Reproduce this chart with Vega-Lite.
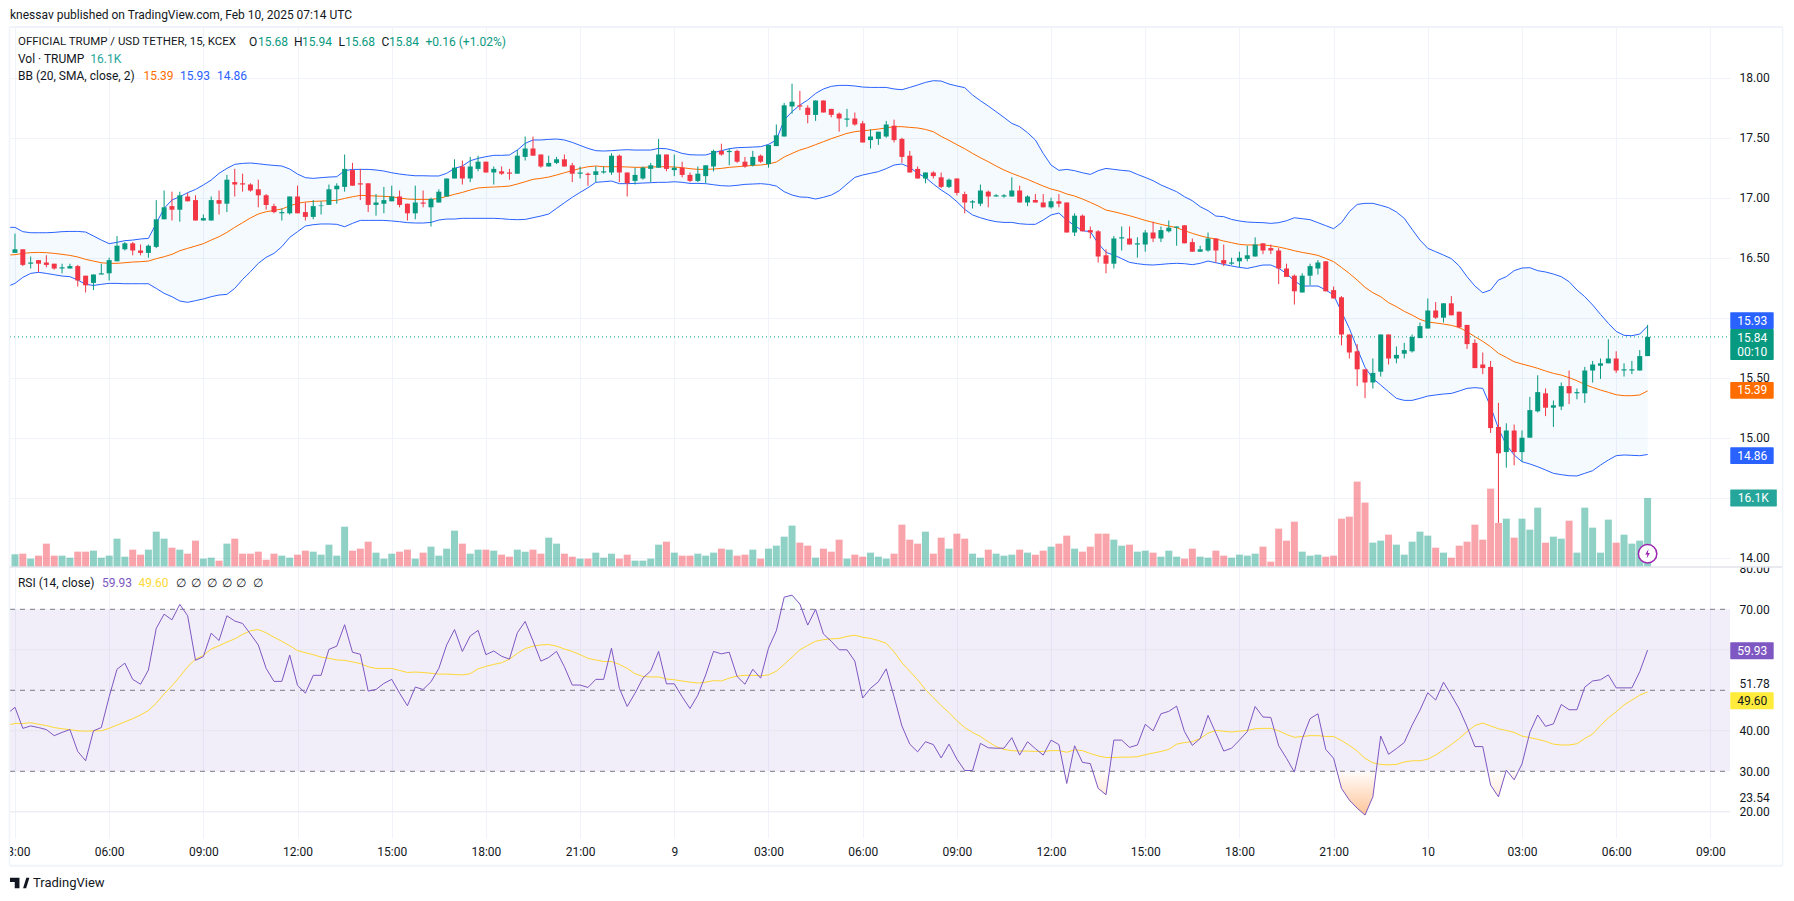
{"$schema":"https://vega.github.io/schema/vega-lite/v6.json","width":1720,"height":811,"autosize":{"type":"none"},"padding":{"left":10,"top":27,"right":64,"bottom":63},"background":"white","config":{"font":"Roboto","view":{"stroke":null},"text":{"font":"Roboto","fontSize":12}},
"datasets":{"bars":[
{"t":"2025-02-08T02:45Z","u":16.753,"m":16.522,"d":16.26,"r":44.2,"a":41.4},
{"t":"2025-02-08T03:00Z","o":16.54,"h":16.7,"l":16.54,"c":16.57,"v":2960,"u":16.753,"m":16.525,"d":16.286,"r":45.8,"a":41.8},
{"t":"2025-02-08T03:15Z","o":16.57,"h":16.57,"l":16.43,"c":16.44,"v":3110,"u":16.717,"m":16.536,"d":16.336,"r":40.6,"a":41.8},
{"t":"2025-02-08T03:30Z","o":16.45,"h":16.51,"l":16.41,"c":16.46,"v":1950,"u":16.708,"m":16.542,"d":16.369,"r":41.2,"a":42},
{"t":"2025-02-08T03:45Z","o":16.48,"h":16.48,"l":16.38,"c":16.45,"v":2650,"u":16.708,"m":16.544,"d":16.378,"r":40.8,"a":41.6},
{"t":"2025-02-08T04:00Z","o":16.46,"h":16.52,"l":16.42,"c":16.44,"v":5450,"u":16.708,"m":16.542,"d":16.369,"r":40.3,"a":41.3},
{"t":"2025-02-08T04:15Z","o":16.45,"h":16.45,"l":16.4,"c":16.41,"v":2650,"u":16.711,"m":16.536,"d":16.358,"r":38.8,"a":40.8},
{"t":"2025-02-08T04:30Z","o":16.41,"h":16.45,"l":16.37,"c":16.42,"v":2650,"u":16.717,"m":16.528,"d":16.347,"r":39.6,"a":40.5},
{"t":"2025-02-08T04:45Z","o":16.41,"h":16.45,"l":16.41,"c":16.43,"v":2180,"u":16.719,"m":16.519,"d":16.342,"r":40.3,"a":40.3},
{"t":"2025-02-08T05:00Z","o":16.43,"h":16.44,"l":16.26,"c":16.31,"v":3580,"u":16.719,"m":16.506,"d":16.314,"r":34.9,"a":40},
{"t":"2025-02-08T05:15Z","o":16.35,"h":16.35,"l":16.21,"c":16.27,"v":3580,"u":16.714,"m":16.486,"d":16.278,"r":32.6,"a":39.9},
{"t":"2025-02-08T05:30Z","o":16.29,"h":16.36,"l":16.23,"c":16.36,"v":3810,"u":16.681,"m":16.472,"d":16.269,"r":40,"a":40},
{"t":"2025-02-08T05:45Z","o":16.36,"h":16.45,"l":16.36,"c":16.37,"v":2180,"u":16.647,"m":16.458,"d":16.278,"r":40.8,"a":40},
{"t":"2025-02-08T06:00Z","o":16.37,"h":16.5,"l":16.31,"c":16.48,"v":2650,"u":16.617,"m":16.453,"d":16.286,"r":48.4,"a":40.6},
{"t":"2025-02-08T06:15Z","o":16.47,"h":16.68,"l":16.47,"c":16.6,"v":6610,"u":16.628,"m":16.453,"d":16.286,"r":55.2,"a":41.4},
{"t":"2025-02-08T06:30Z","o":16.57,"h":16.63,"l":16.56,"c":16.62,"v":2410,"u":16.642,"m":16.458,"d":16.283,"r":56.7,"a":42.2},
{"t":"2025-02-08T06:45Z","o":16.62,"h":16.63,"l":16.52,"c":16.56,"v":4050,"u":16.647,"m":16.464,"d":16.283,"r":52.7,"a":43},
{"t":"2025-02-08T07:00Z","o":16.56,"h":16.61,"l":16.52,"c":16.54,"v":2880,"u":16.656,"m":16.467,"d":16.283,"r":51.5,"a":43.9},
{"t":"2025-02-08T07:15Z","o":16.54,"h":16.61,"l":16.5,"c":16.6,"v":4050,"u":16.661,"m":16.472,"d":16.283,"r":55,"a":45},
{"t":"2025-02-08T07:30Z","o":16.59,"h":16.98,"l":16.58,"c":16.82,"v":8250,"u":16.786,"m":16.492,"d":16.244,"r":65.3,"a":46.8},
{"t":"2025-02-08T07:45Z","o":16.82,"h":17.06,"l":16.82,"c":16.92,"v":6610,"u":16.911,"m":16.508,"d":16.203,"r":68.8,"a":49.1},
{"t":"2025-02-08T08:00Z","o":16.93,"h":17.05,"l":16.81,"c":16.9,"v":4510,"u":16.981,"m":16.528,"d":16.175,"r":67.4,"a":51.1},
{"t":"2025-02-08T08:15Z","o":16.9,"h":17.05,"l":16.8,"c":17.02,"v":4050,"u":17.008,"m":16.558,"d":16.139,"r":71.2,"a":53.4},
{"t":"2025-02-08T08:30Z","o":17.01,"h":17.04,"l":16.97,"c":16.97,"v":3110,"u":17.042,"m":16.578,"d":16.128,"r":68.4,"a":55.8},
{"t":"2025-02-08T08:45Z","o":16.98,"h":17.02,"l":16.81,"c":16.81,"v":6150,"u":17.069,"m":16.597,"d":16.142,"r":57.4,"a":57.7},
{"t":"2025-02-08T09:00Z","o":16.81,"h":16.86,"l":16.81,"c":16.83,"v":1950,"u":17.106,"m":16.617,"d":16.156,"r":58.3,"a":58.6},
{"t":"2025-02-08T09:15Z","o":16.81,"h":17.01,"l":16.81,"c":16.98,"v":2180,"u":17.147,"m":16.647,"d":16.175,"r":64.1,"a":60.2},
{"t":"2025-02-08T09:30Z","o":16.98,"h":17.06,"l":16.86,"c":16.95,"v":1480,"u":17.203,"m":16.675,"d":16.189,"r":62.3,"a":61},
{"t":"2025-02-08T09:45Z","o":16.95,"h":17.19,"l":16.88,"c":17.15,"v":5450,"u":17.244,"m":16.711,"d":16.194,"r":68.4,"a":61.9},
{"t":"2025-02-08T10:00Z","o":17.13,"h":17.24,"l":17.01,"c":17.11,"v":6610,"u":17.278,"m":16.753,"d":16.244,"r":67.1,"a":62.7},
{"t":"2025-02-08T10:15Z","o":17.12,"h":17.2,"l":17.05,"c":17.11,"v":3110,"u":17.286,"m":16.792,"d":16.319,"r":66.5,"a":63.8},
{"t":"2025-02-08T10:30Z","o":17.11,"h":17.12,"l":17.05,"c":17.06,"v":3110,"u":17.289,"m":16.831,"d":16.383,"r":63.9,"a":64.7},
{"t":"2025-02-08T10:45Z","o":17.07,"h":17.15,"l":16.92,"c":17.02,"v":3580,"u":17.283,"m":16.864,"d":16.453,"r":61.2,"a":65},
{"t":"2025-02-08T11:00Z","o":17.02,"h":17.03,"l":16.9,"c":16.94,"v":1710,"u":17.275,"m":16.883,"d":16.503,"r":55.4,"a":64.2},
{"t":"2025-02-08T11:15Z","o":16.93,"h":16.95,"l":16.87,"c":16.88,"v":3110,"u":17.269,"m":16.894,"d":16.536,"r":52.2,"a":63.1},
{"t":"2025-02-08T11:30Z","o":16.87,"h":16.91,"l":16.81,"c":16.88,"v":2650,"u":17.264,"m":16.906,"d":16.592,"r":52.2,"a":62.1},
{"t":"2025-02-08T11:45Z","o":16.87,"h":17.01,"l":16.86,"c":17.01,"v":2180,"u":17.239,"m":16.931,"d":16.669,"r":58.7,"a":61},
{"t":"2025-02-08T12:00Z","o":17.01,"h":17.1,"l":16.87,"c":16.87,"v":2880,"u":17.197,"m":16.953,"d":16.717,"r":51.2,"a":59.8},
{"t":"2025-02-08T12:15Z","o":16.88,"h":16.96,"l":16.81,"c":16.84,"v":3810,"u":17.167,"m":16.964,"d":16.764,"r":49.3,"a":59.3},
{"t":"2025-02-08T12:30Z","o":16.84,"h":16.98,"l":16.82,"c":16.93,"v":3580,"u":17.161,"m":16.969,"d":16.775,"r":53.7,"a":58.8},
{"t":"2025-02-08T12:45Z","o":16.93,"h":16.97,"l":16.86,"c":16.935,"v":2880,"u":17.167,"m":16.972,"d":16.781,"r":53.7,"a":58.2},
{"t":"2025-02-08T13:00Z","o":16.94,"h":17.11,"l":16.94,"c":17.07,"v":5210,"u":17.172,"m":16.975,"d":16.781,"r":60.1,"a":57.9},
{"t":"2025-02-08T13:15Z","o":17.07,"h":17.12,"l":16.95,"c":17.1,"v":2650,"u":17.175,"m":16.978,"d":16.778,"r":60.9,"a":57.5},
{"t":"2025-02-08T13:30Z","o":17.09,"h":17.36,"l":17.05,"c":17.24,"v":9410,"u":17.225,"m":16.994,"d":16.758,"r":66.2,"a":57.4},
{"t":"2025-02-08T13:45Z","o":17.23,"h":17.29,"l":17.1,"c":17.1,"v":3810,"u":17.236,"m":17.008,"d":16.786,"r":59.4,"a":57},
{"t":"2025-02-08T14:00Z","o":17.12,"h":17.24,"l":16.98,"c":17.11,"v":4280,"u":17.236,"m":17.019,"d":16.811,"r":58.9,"a":56.6},
{"t":"2025-02-08T14:15Z","o":17.12,"h":17.12,"l":16.88,"c":16.94,"v":5910,"u":17.236,"m":17.017,"d":16.811,"r":49.8,"a":55.8},
{"t":"2025-02-08T14:30Z","o":16.94,"h":17.03,"l":16.85,"c":16.96,"v":3350,"u":17.231,"m":17.014,"d":16.811,"r":50.2,"a":55.4},
{"t":"2025-02-08T14:45Z","o":16.95,"h":17.09,"l":16.87,"c":16.98,"v":1950,"u":17.222,"m":17.011,"d":16.811,"r":51.7,"a":55.4},
{"t":"2025-02-08T15:00Z","o":16.97,"h":17.1,"l":16.97,"c":17.01,"v":3110,"u":17.208,"m":17.008,"d":16.806,"r":52.7,"a":55.4},
{"t":"2025-02-08T15:15Z","o":17.01,"h":17.06,"l":16.92,"c":16.94,"v":3580,"u":17.197,"m":16.997,"d":16.8,"r":49.3,"a":54.9},
{"t":"2025-02-08T15:30Z","o":16.95,"h":16.95,"l":16.81,"c":16.87,"v":4050,"u":17.189,"m":16.989,"d":16.792,"r":46.2,"a":54.4},
{"t":"2025-02-08T15:45Z","o":16.87,"h":17.1,"l":16.82,"c":16.96,"v":1950,"u":17.183,"m":16.986,"d":16.789,"r":50.8,"a":54.5},
{"t":"2025-02-08T16:00Z","o":16.96,"h":17.06,"l":16.92,"c":16.95,"v":3350,"u":17.183,"m":16.986,"d":16.789,"r":50.2,"a":54.4},
{"t":"2025-02-08T16:15Z","o":16.92,"h":17,"l":16.76,"c":16.99,"v":4750,"u":17.181,"m":16.986,"d":16.794,"r":52.1,"a":54.2},
{"t":"2025-02-08T16:30Z","o":16.96,"h":17.07,"l":16.96,"c":17.05,"v":2650,"u":17.181,"m":16.994,"d":16.814,"r":55.4,"a":54},
{"t":"2025-02-08T16:45Z","o":17.01,"h":17.16,"l":17.01,"c":17.16,"v":4280,"u":17.203,"m":17.011,"d":16.822,"r":61.2,"a":54},
{"t":"2025-02-08T17:00Z","o":17.16,"h":17.32,"l":17.16,"c":17.25,"v":8480,"u":17.244,"m":17.028,"d":16.822,"r":65,"a":53.9},
{"t":"2025-02-08T17:15Z","o":17.26,"h":17.31,"l":17.11,"c":17.16,"v":5450,"u":17.264,"m":17.044,"d":16.828,"r":59.6,"a":53.8},
{"t":"2025-02-08T17:30Z","o":17.16,"h":17.34,"l":17.13,"c":17.26,"v":3110,"u":17.308,"m":17.064,"d":16.828,"r":63.4,"a":54.1},
{"t":"2025-02-08T17:45Z","o":17.24,"h":17.35,"l":17.22,"c":17.3,"v":4050,"u":17.328,"m":17.081,"d":16.828,"r":64.8,"a":55.3},
{"t":"2025-02-08T18:00Z","o":17.3,"h":17.3,"l":17.21,"c":17.21,"v":4050,"u":17.342,"m":17.086,"d":16.828,"r":58.8,"a":55.9},
{"t":"2025-02-08T18:15Z","o":17.21,"h":17.26,"l":17.11,"c":17.24,"v":3810,"u":17.353,"m":17.089,"d":16.828,"r":59.7,"a":56.4},
{"t":"2025-02-08T18:30Z","o":17.22,"h":17.26,"l":17.19,"c":17.2,"v":2880,"u":17.353,"m":17.092,"d":16.825,"r":58.4,"a":56.8},
{"t":"2025-02-08T18:45Z","o":17.21,"h":17.24,"l":17.15,"c":17.2,"v":2410,"u":17.356,"m":17.097,"d":16.819,"r":57.7,"a":57.7},
{"t":"2025-02-08T19:00Z","o":17.2,"h":17.4,"l":17.2,"c":17.35,"v":4050,"u":17.397,"m":17.114,"d":16.817,"r":64.2,"a":59.1},
{"t":"2025-02-08T19:15Z","o":17.34,"h":17.51,"l":17.31,"c":17.41,"v":3580,"u":17.453,"m":17.133,"d":16.819,"r":67,"a":60.3},
{"t":"2025-02-08T19:30Z","o":17.41,"h":17.51,"l":17.35,"c":17.35,"v":4050,"u":17.481,"m":17.153,"d":16.833,"r":62.2,"a":60.9},
{"t":"2025-02-08T19:45Z","o":17.36,"h":17.36,"l":17.25,"c":17.26,"v":3110,"u":17.481,"m":17.161,"d":16.847,"r":57.2,"a":61.2},
{"t":"2025-02-08T20:00Z","o":17.26,"h":17.35,"l":17.26,"c":17.29,"v":6850,"u":17.486,"m":17.172,"d":16.864,"r":58.1,"a":61.3},
{"t":"2025-02-08T20:15Z","o":17.29,"h":17.34,"l":17.28,"c":17.32,"v":5450,"u":17.489,"m":17.189,"d":16.911,"r":59.6,"a":60.9},
{"t":"2025-02-08T20:30Z","o":17.32,"h":17.36,"l":17.26,"c":17.26,"v":3110,"u":17.481,"m":17.208,"d":16.958,"r":55.8,"a":60.2},
{"t":"2025-02-08T20:45Z","o":17.27,"h":17.29,"l":17.13,"c":17.2,"v":2410,"u":17.461,"m":17.225,"d":17.003,"r":51.3,"a":59.6},
{"t":"2025-02-08T21:00Z","o":17.2,"h":17.26,"l":17.16,"c":17.21,"v":1950,"u":17.436,"m":17.244,"d":17.044,"r":51.3,"a":58.8},
{"t":"2025-02-08T21:15Z","o":17.2,"h":17.21,"l":17.1,"c":17.19,"v":1950,"u":17.411,"m":17.258,"d":17.083,"r":50.7,"a":57.9},
{"t":"2025-02-08T21:30Z","o":17.19,"h":17.26,"l":17.13,"c":17.22,"v":3350,"u":17.392,"m":17.264,"d":17.128,"r":52.7,"a":57.5},
{"t":"2025-02-08T21:45Z","o":17.21,"h":17.26,"l":17.2,"c":17.22,"v":2180,"u":17.389,"m":17.258,"d":17.133,"r":52.7,"a":57.1},
{"t":"2025-02-08T22:00Z","o":17.21,"h":17.37,"l":17.19,"c":17.35,"v":3110,"u":17.392,"m":17.258,"d":17.139,"r":60.4,"a":57.1},
{"t":"2025-02-08T22:15Z","o":17.35,"h":17.36,"l":17.13,"c":17.21,"v":1950,"u":17.397,"m":17.258,"d":17.117,"r":50.5,"a":56.4},
{"t":"2025-02-08T22:30Z","o":17.21,"h":17.21,"l":17.01,"c":17.12,"v":2880,"u":17.4,"m":17.256,"d":17.117,"r":46,"a":55.4},
{"t":"2025-02-08T22:45Z","o":17.14,"h":17.25,"l":17.11,"c":17.19,"v":1480,"u":17.397,"m":17.253,"d":17.119,"r":49.3,"a":54.1},
{"t":"2025-02-08T23:00Z","o":17.16,"h":17.26,"l":17.15,"c":17.25,"v":1480,"u":17.397,"m":17.253,"d":17.122,"r":53,"a":53.4},
{"t":"2025-02-08T23:15Z","o":17.24,"h":17.29,"l":17.13,"c":17.27,"v":1950,"u":17.397,"m":17.256,"d":17.125,"r":54.8,"a":53.3},
{"t":"2025-02-08T23:30Z","o":17.25,"h":17.49,"l":17.25,"c":17.36,"v":5210,"u":17.411,"m":17.258,"d":17.128,"r":59.6,"a":53.3},
{"t":"2025-02-08T23:45Z","o":17.36,"h":17.36,"l":17.22,"c":17.24,"v":5910,"u":17.408,"m":17.258,"d":17.128,"r":51.6,"a":52.8},
{"t":"2025-02-09T00:00Z","o":17.23,"h":17.36,"l":17.18,"c":17.25,"v":3350,"u":17.392,"m":17.256,"d":17.133,"r":51.6,"a":52.6},
{"t":"2025-02-09T00:15Z","o":17.25,"h":17.3,"l":17.17,"c":17.19,"v":2650,"u":17.369,"m":17.25,"d":17.128,"r":48.4,"a":52.3},
{"t":"2025-02-09T00:30Z","o":17.19,"h":17.21,"l":17.13,"c":17.14,"v":2650,"u":17.358,"m":17.242,"d":17.119,"r":45.5,"a":52},
{"t":"2025-02-09T00:45Z","o":17.14,"h":17.26,"l":17.13,"c":17.2,"v":3110,"u":17.356,"m":17.236,"d":17.119,"r":48.8,"a":51.8},
{"t":"2025-02-09T01:00Z","o":17.18,"h":17.27,"l":17.12,"c":17.27,"v":2650,"u":17.356,"m":17.236,"d":17.117,"r":53.8,"a":52},
{"t":"2025-02-09T01:15Z","o":17.26,"h":17.4,"l":17.22,"c":17.39,"v":3350,"u":17.375,"m":17.239,"d":17.108,"r":59.6,"a":52.4},
{"t":"2025-02-09T01:30Z","o":17.39,"h":17.45,"l":17.35,"c":17.36,"v":4280,"u":17.392,"m":17.244,"d":17.1,"r":59,"a":52.3},
{"t":"2025-02-09T01:45Z","o":17.38,"h":17.41,"l":17.27,"c":17.39,"v":4050,"u":17.408,"m":17.253,"d":17.097,"r":59.4,"a":53},
{"t":"2025-02-09T02:00Z","o":17.39,"h":17.4,"l":17.29,"c":17.3,"v":2650,"u":17.417,"m":17.258,"d":17.103,"r":53.4,"a":53.5},
{"t":"2025-02-09T02:15Z","o":17.3,"h":17.34,"l":17.25,"c":17.26,"v":2880,"u":17.419,"m":17.264,"d":17.111,"r":51.5,"a":53.7},
{"t":"2025-02-09T02:30Z","o":17.27,"h":17.39,"l":17.26,"c":17.34,"v":4050,"u":17.422,"m":17.269,"d":17.114,"r":55.2,"a":53.7},
{"t":"2025-02-09T02:45Z","o":17.35,"h":17.36,"l":17.29,"c":17.3,"v":1950,"u":17.425,"m":17.272,"d":17.117,"r":53,"a":53.6},
{"t":"2025-02-09T03:00Z","o":17.28,"h":17.44,"l":17.25,"c":17.44,"v":4280,"u":17.444,"m":17.281,"d":17.111,"r":60.4,"a":53.8},
{"t":"2025-02-09T03:15Z","o":17.43,"h":17.61,"l":17.43,"c":17.52,"v":4980,"u":17.481,"m":17.297,"d":17.097,"r":64.7,"a":54.7},
{"t":"2025-02-09T03:30Z","o":17.51,"h":17.79,"l":17.51,"c":17.77,"v":7080,"u":17.647,"m":17.339,"d":17.05,"r":73,"a":56.4},
{"t":"2025-02-09T03:45Z","o":17.76,"h":17.95,"l":17.7,"c":17.8,"v":9650,"u":17.717,"m":17.369,"d":17.022,"r":73.5,"a":58.2},
{"t":"2025-02-09T04:00Z","o":17.77,"h":17.89,"l":17.73,"c":17.76,"v":5680,"u":17.772,"m":17.397,"d":17.006,"r":71.3,"a":60},
{"t":"2025-02-09T04:15Z","o":17.75,"h":17.77,"l":17.62,"c":17.69,"v":4980,"u":17.814,"m":17.417,"d":17.003,"r":66.1,"a":61.1},
{"t":"2025-02-09T04:30Z","o":17.69,"h":17.81,"l":17.64,"c":17.81,"v":2180,"u":17.869,"m":17.442,"d":16.989,"r":70,"a":62.1},
{"t":"2025-02-09T04:45Z","o":17.81,"h":17.81,"l":17.71,"c":17.71,"v":4280,"u":17.906,"m":17.467,"d":17.003,"r":63.9,"a":62.5},
{"t":"2025-02-09T05:00Z","o":17.74,"h":17.74,"l":17.67,"c":17.69,"v":3580,"u":17.928,"m":17.492,"d":17.022,"r":62.1,"a":62.7},
{"t":"2025-02-09T05:15Z","o":17.7,"h":17.71,"l":17.55,"c":17.66,"v":6380,"u":17.936,"m":17.514,"d":17.058,"r":60,"a":62.8},
{"t":"2025-02-09T05:30Z","o":17.65,"h":17.74,"l":17.59,"c":17.66,"v":1950,"u":17.936,"m":17.536,"d":17.114,"r":60,"a":63.3},
{"t":"2025-02-09T05:45Z","o":17.66,"h":17.71,"l":17.6,"c":17.61,"v":2880,"u":17.931,"m":17.55,"d":17.169,"r":57.2,"a":63.6},
{"t":"2025-02-09T06:00Z","o":17.62,"h":17.64,"l":17.46,"c":17.46,"v":2410,"u":17.922,"m":17.558,"d":17.189,"r":48.1,"a":63.1},
{"t":"2025-02-09T06:15Z","o":17.48,"h":17.57,"l":17.41,"c":17.51,"v":3350,"u":17.919,"m":17.564,"d":17.203,"r":50.5,"a":62.8},
{"t":"2025-02-09T06:30Z","o":17.49,"h":17.55,"l":17.44,"c":17.55,"v":2410,"u":17.919,"m":17.572,"d":17.217,"r":52.1,"a":62.3},
{"t":"2025-02-09T06:45Z","o":17.51,"h":17.64,"l":17.5,"c":17.61,"v":1950,"u":17.919,"m":17.581,"d":17.242,"r":55.3,"a":61.6},
{"t":"2025-02-09T07:00Z","o":17.6,"h":17.65,"l":17.46,"c":17.48,"v":3110,"u":17.906,"m":17.592,"d":17.272,"r":48.4,"a":59.5},
{"t":"2025-02-09T07:15Z","o":17.49,"h":17.5,"l":17.29,"c":17.34,"v":9880,"u":17.9,"m":17.592,"d":17.281,"r":41.2,"a":56.8},
{"t":"2025-02-09T07:30Z","o":17.35,"h":17.39,"l":17.21,"c":17.21,"v":6380,"u":17.919,"m":17.586,"d":17.253,"r":36.7,"a":54.7},
{"t":"2025-02-09T07:45Z","o":17.24,"h":17.26,"l":17.16,"c":17.16,"v":5450,"u":17.939,"m":17.581,"d":17.203,"r":34.8,"a":52.6},
{"t":"2025-02-09T08:00Z","o":17.16,"h":17.21,"l":17.12,"c":17.21,"v":8250,"u":17.961,"m":17.569,"d":17.169,"r":37.3,"a":50.2},
{"t":"2025-02-09T08:15Z","o":17.21,"h":17.22,"l":17.16,"c":17.18,"v":3110,"u":17.975,"m":17.55,"d":17.114,"r":36.6,"a":48.2},
{"t":"2025-02-09T08:30Z","o":17.17,"h":17.21,"l":17.08,"c":17.09,"v":6850,"u":17.972,"m":17.511,"d":17.064,"r":33.3,"a":46.2},
{"t":"2025-02-09T08:45Z","o":17.09,"h":17.16,"l":17.08,"c":17.15,"v":4280,"u":17.947,"m":17.478,"d":17.022,"r":36.7,"a":44.5},
{"t":"2025-02-09T09:00Z","o":17.16,"h":17.16,"l":17.02,"c":17.04,"v":7780,"u":17.931,"m":17.442,"d":16.967,"r":33,"a":42.5},
{"t":"2025-02-09T09:15Z","o":17.03,"h":17.05,"l":16.87,"c":16.96,"v":6610,"u":17.917,"m":17.408,"d":16.903,"r":30.2,"a":40.8},
{"t":"2025-02-09T09:30Z","o":16.96,"h":16.98,"l":16.91,"c":16.97,"v":3110,"u":17.856,"m":17.369,"d":16.856,"r":30.2,"a":39.6},
{"t":"2025-02-09T09:45Z","o":16.95,"h":17.11,"l":16.93,"c":17.06,"v":2180,"u":17.808,"m":17.333,"d":16.833,"r":36.9,"a":38.6},
{"t":"2025-02-09T10:00Z","o":17.05,"h":17.06,"l":16.92,"c":17.01,"v":4050,"u":17.764,"m":17.3,"d":16.814,"r":35.8,"a":37.3},
{"t":"2025-02-09T10:15Z","o":17.01,"h":17.03,"l":17.01,"c":17.02,"v":3110,"u":17.717,"m":17.264,"d":16.8,"r":35.7,"a":36.1},
{"t":"2025-02-09T10:30Z","o":17.01,"h":17.03,"l":17,"c":17.02,"v":2650,"u":17.669,"m":17.231,"d":16.794,"r":35.7,"a":35.4},
{"t":"2025-02-09T10:45Z","o":17.01,"h":17.17,"l":17.01,"c":17.06,"v":2880,"u":17.619,"m":17.203,"d":16.794,"r":38.3,"a":35.1},
{"t":"2025-02-09T11:00Z","o":17.06,"h":17.1,"l":16.96,"c":16.96,"v":4050,"u":17.592,"m":17.178,"d":16.783,"r":34,"a":35},
{"t":"2025-02-09T11:15Z","o":16.96,"h":17.02,"l":16.93,"c":17.01,"v":3350,"u":17.542,"m":17.153,"d":16.778,"r":37.3,"a":35},
{"t":"2025-02-09T11:30Z","o":16.98,"h":17.03,"l":16.96,"c":16.96,"v":2880,"u":17.481,"m":17.125,"d":16.778,"r":35.6,"a":34.9},
{"t":"2025-02-09T11:45Z","o":16.96,"h":17.03,"l":16.92,"c":16.92,"v":3810,"u":17.369,"m":17.097,"d":16.814,"r":34,"a":34.9},
{"t":"2025-02-09T12:00Z","o":16.92,"h":17,"l":16.91,"c":16.97,"v":4750,"u":17.272,"m":17.072,"d":16.856,"r":37.7,"a":35.1},
{"t":"2025-02-09T12:15Z","o":16.97,"h":17.03,"l":16.92,"c":16.95,"v":5450,"u":17.228,"m":17.056,"d":16.872,"r":36.6,"a":35.1},
{"t":"2025-02-09T12:30Z","o":16.96,"h":16.96,"l":16.71,"c":16.71,"v":7310,"u":17.236,"m":17.031,"d":16.814,"r":27,"a":34.7},
{"t":"2025-02-09T12:45Z","o":16.71,"h":16.87,"l":16.68,"c":16.85,"v":4280,"u":17.225,"m":17.014,"d":16.767,"r":36.3,"a":35.3},
{"t":"2025-02-09T13:00Z","o":16.85,"h":16.86,"l":16.72,"c":16.72,"v":3580,"u":17.208,"m":16.989,"d":16.725,"r":32.2,"a":35.1},
{"t":"2025-02-09T13:15Z","o":16.73,"h":16.76,"l":16.66,"c":16.71,"v":4750,"u":17.194,"m":16.961,"d":16.717,"r":31.9,"a":34.4},
{"t":"2025-02-09T13:30Z","o":16.72,"h":16.73,"l":16.46,"c":16.51,"v":7780,"u":17.225,"m":16.931,"d":16.619,"r":25.8,"a":33.8},
{"t":"2025-02-09T13:45Z","o":16.52,"h":16.57,"l":16.37,"c":16.45,"v":7780,"u":17.244,"m":16.897,"d":16.544,"r":24.2,"a":33.4},
{"t":"2025-02-09T14:00Z","o":16.45,"h":16.68,"l":16.41,"c":16.66,"v":6380,"u":17.236,"m":16.883,"d":16.522,"r":37.7,"a":33.4},
{"t":"2025-02-09T14:15Z","o":16.66,"h":16.76,"l":16.56,"c":16.67,"v":4980,"u":17.228,"m":16.867,"d":16.492,"r":37.7,"a":33.5},
{"t":"2025-02-09T14:30Z","o":16.66,"h":16.76,"l":16.61,"c":16.61,"v":5210,"u":17.222,"m":16.85,"d":16.461,"r":35.9,"a":33.5},
{"t":"2025-02-09T14:45Z","o":16.61,"h":16.67,"l":16.5,"c":16.62,"v":3580,"u":17.194,"m":16.831,"d":16.45,"r":36.5,"a":33.6},
{"t":"2025-02-09T15:00Z","o":16.61,"h":16.73,"l":16.55,"c":16.71,"v":3810,"u":17.169,"m":16.811,"d":16.442,"r":41.6,"a":34.1},
{"t":"2025-02-09T15:15Z","o":16.71,"h":16.8,"l":16.63,"c":16.66,"v":3350,"u":17.142,"m":16.794,"d":16.439,"r":40,"a":34.5},
{"t":"2025-02-09T15:30Z","o":16.66,"h":16.76,"l":16.63,"c":16.73,"v":2410,"u":17.106,"m":16.778,"d":16.444,"r":44.2,"a":34.9},
{"t":"2025-02-09T15:45Z","o":16.72,"h":16.81,"l":16.71,"c":16.75,"v":3810,"u":17.078,"m":16.764,"d":16.45,"r":44.8,"a":35.4},
{"t":"2025-02-09T16:00Z","o":16.75,"h":16.76,"l":16.6,"c":16.76,"v":2410,"u":17.05,"m":16.75,"d":16.453,"r":46.1,"a":36.7},
{"t":"2025-02-09T16:15Z","o":16.77,"h":16.77,"l":16.62,"c":16.62,"v":1950,"u":17.008,"m":16.725,"d":16.45,"r":39.8,"a":37.1},
{"t":"2025-02-09T16:30Z","o":16.63,"h":16.66,"l":16.55,"c":16.55,"v":4280,"u":16.975,"m":16.703,"d":16.442,"r":36.4,"a":37.3},
{"t":"2025-02-09T16:45Z","o":16.55,"h":16.6,"l":16.55,"c":16.57,"v":2410,"u":16.925,"m":16.683,"d":16.453,"r":38.1,"a":38.1},
{"t":"2025-02-09T17:00Z","o":16.56,"h":16.71,"l":16.55,"c":16.66,"v":2180,"u":16.892,"m":16.667,"d":16.472,"r":43.8,"a":39.4},
{"t":"2025-02-09T17:15Z","o":16.66,"h":16.66,"l":16.46,"c":16.56,"v":3810,"u":16.847,"m":16.656,"d":16.458,"r":39.4,"a":40.1},
{"t":"2025-02-09T17:30Z","o":16.48,"h":16.61,"l":16.43,"c":16.45,"v":2650,"u":16.842,"m":16.639,"d":16.444,"r":35,"a":39.9},
{"t":"2025-02-09T17:45Z","o":16.45,"h":16.5,"l":16.44,"c":16.46,"v":2180,"u":16.819,"m":16.625,"d":16.431,"r":35.7,"a":39.7},
{"t":"2025-02-09T18:00Z","o":16.47,"h":16.55,"l":16.42,"c":16.5,"v":2880,"u":16.806,"m":16.611,"d":16.419,"r":37.7,"a":39.9},
{"t":"2025-02-09T18:15Z","o":16.49,"h":16.6,"l":16.47,"c":16.52,"v":2650,"u":16.797,"m":16.606,"d":16.411,"r":39.8,"a":40.1},
{"t":"2025-02-09T18:30Z","o":16.51,"h":16.67,"l":16.51,"c":16.61,"v":3110,"u":16.794,"m":16.606,"d":16.425,"r":46,"a":40.5},
{"t":"2025-02-09T18:45Z","o":16.62,"h":16.62,"l":16.53,"c":16.56,"v":4750,"u":16.792,"m":16.606,"d":16.439,"r":43.4,"a":40.6},
{"t":"2025-02-09T19:00Z","o":16.58,"h":16.61,"l":16.53,"c":16.56,"v":1240,"u":16.786,"m":16.6,"d":16.439,"r":43.3,"a":40.6},
{"t":"2025-02-09T19:15Z","o":16.56,"h":16.58,"l":16.28,"c":16.41,"v":8950,"u":16.792,"m":16.589,"d":16.411,"r":36.3,"a":40},
{"t":"2025-02-09T19:30Z","o":16.41,"h":16.45,"l":16.34,"c":16.34,"v":6150,"u":16.808,"m":16.575,"d":16.369,"r":33.2,"a":39.1},
{"t":"2025-02-09T19:45Z","o":16.35,"h":16.36,"l":16.11,"c":16.22,"v":10580,"u":16.833,"m":16.558,"d":16.306,"r":29.8,"a":38.4},
{"t":"2025-02-09T20:00Z","o":16.21,"h":16.37,"l":16.21,"c":16.35,"v":3580,"u":16.825,"m":16.544,"d":16.264,"r":38,"a":38.6},
{"t":"2025-02-09T20:15Z","o":16.35,"h":16.45,"l":16.27,"c":16.43,"v":2650,"u":16.817,"m":16.533,"d":16.264,"r":43,"a":38.8},
{"t":"2025-02-09T20:30Z","o":16.41,"h":16.48,"l":16.36,"c":16.46,"v":2880,"u":16.792,"m":16.519,"d":16.264,"r":44.2,"a":38.8},
{"t":"2025-02-09T20:45Z","o":16.47,"h":16.47,"l":16.22,"c":16.22,"v":2410,"u":16.767,"m":16.494,"d":16.231,"r":35.4,"a":38.6},
{"t":"2025-02-09T21:00Z","o":16.23,"h":16.26,"l":16.16,"c":16.16,"v":2650,"u":16.742,"m":16.467,"d":16.189,"r":33.2,"a":38.6},
{"t":"2025-02-09T21:15Z","o":16.17,"h":16.18,"l":15.77,"c":15.86,"v":11280,"u":16.792,"m":16.419,"d":16.05,"r":25.8,"a":37.6},
{"t":"2025-02-09T21:30Z","o":15.86,"h":15.86,"l":15.66,"c":15.71,"v":11750,"u":16.883,"m":16.369,"d":15.911,"r":22.9,"a":36.4},
{"t":"2025-02-09T21:45Z","o":15.72,"h":15.78,"l":15.43,"c":15.57,"v":19920,"u":16.944,"m":16.314,"d":15.744,"r":20.9,"a":35},
{"t":"2025-02-09T22:00Z","o":15.57,"h":15.57,"l":15.33,"c":15.46,"v":15020,"u":16.953,"m":16.253,"d":15.586,"r":19.2,"a":33.2},
{"t":"2025-02-09T22:15Z","o":15.46,"h":15.66,"l":15.41,"c":15.54,"v":5680,"u":16.953,"m":16.208,"d":15.494,"r":23.7,"a":32.1},
{"t":"2025-02-09T22:30Z","o":15.55,"h":15.86,"l":15.51,"c":15.86,"v":6150,"u":16.936,"m":16.175,"d":15.439,"r":38.7,"a":31.7},
{"t":"2025-02-09T22:45Z","o":15.86,"h":15.86,"l":15.61,"c":15.66,"v":7550,"u":16.917,"m":16.125,"d":15.383,"r":34.2,"a":31.6},
{"t":"2025-02-09T23:00Z","o":15.66,"h":15.76,"l":15.62,"c":15.69,"v":5210,"u":16.881,"m":16.092,"d":15.328,"r":35.6,"a":31.7},
{"t":"2025-02-09T23:15Z","o":15.7,"h":15.79,"l":15.66,"c":15.73,"v":2880,"u":16.828,"m":16.053,"d":15.311,"r":37.1,"a":32.3},
{"t":"2025-02-09T23:30Z","o":15.72,"h":15.86,"l":15.71,"c":15.84,"v":5910,"u":16.736,"m":16.022,"d":15.311,"r":41.4,"a":32.6},
{"t":"2025-02-09T23:45Z","o":15.83,"h":15.96,"l":15.83,"c":15.93,"v":8250,"u":16.647,"m":15.986,"d":15.328,"r":45.1,"a":32.6},
{"t":"2025-02-10T00:00Z","o":15.91,"h":16.16,"l":15.91,"c":16.06,"v":7310,"u":16.578,"m":15.964,"d":15.347,"r":49.4,"a":33},
{"t":"2025-02-10T00:15Z","o":16.06,"h":16.13,"l":15.99,"c":16,"v":4510,"u":16.55,"m":15.956,"d":15.356,"r":47.6,"a":34},
{"t":"2025-02-10T00:30Z","o":16,"h":16.12,"l":15.96,"c":16.12,"v":3350,"u":16.522,"m":15.947,"d":15.364,"r":52,"a":35.3},
{"t":"2025-02-10T00:45Z","o":16.12,"h":16.18,"l":16.02,"c":16.02,"v":2180,"u":16.492,"m":15.936,"d":15.369,"r":48.8,"a":36.6},
{"t":"2025-02-10T01:00Z","o":16.05,"h":16.05,"l":15.91,"c":15.92,"v":4980,"u":16.431,"m":15.919,"d":15.389,"r":45.4,"a":38.1},
{"t":"2025-02-10T01:15Z","o":15.94,"h":15.94,"l":15.74,"c":15.78,"v":5910,"u":16.342,"m":15.883,"d":15.411,"r":41,"a":39.8},
{"t":"2025-02-10T01:30Z","o":15.79,"h":15.82,"l":15.58,"c":15.58,"v":9880,"u":16.264,"m":15.842,"d":15.417,"r":36.1,"a":41.3},
{"t":"2025-02-10T01:45Z","o":15.61,"h":15.71,"l":15.53,"c":15.58,"v":6380,"u":16.208,"m":15.803,"d":15.411,"r":36.1,"a":41.9},
{"t":"2025-02-10T02:00Z","o":15.59,"h":15.64,"l":15.04,"c":15.08,"v":18280,"u":16.231,"m":15.758,"d":15.258,"r":26.6,"a":41.2},
{"t":"2025-02-10T02:15Z","o":15.09,"h":15.29,"l":14.29,"c":14.87,"v":10270,"u":16.314,"m":15.703,"d":15.078,"r":23.7,"a":40.5},
{"t":"2025-02-10T02:30Z","o":14.88,"h":15.12,"l":14.75,"c":15.06,"v":11280,"u":16.342,"m":15.669,"d":14.939,"r":30.3,"a":40.1},
{"t":"2025-02-10T02:45Z","o":15.06,"h":15.11,"l":14.77,"c":14.88,"v":6850,"u":16.392,"m":15.633,"d":14.856,"r":27.9,"a":39.6},
{"t":"2025-02-10T03:00Z","o":14.88,"h":15.06,"l":14.8,"c":15,"v":11280,"u":16.414,"m":15.614,"d":14.8,"r":31.8,"a":38.7},
{"t":"2025-02-10T03:15Z","o":15,"h":15.34,"l":15,"c":15.23,"v":8710,"u":16.417,"m":15.597,"d":14.781,"r":39.6,"a":38.3},
{"t":"2025-02-10T03:30Z","o":15.22,"h":15.52,"l":15.21,"c":15.38,"v":13850,"u":16.392,"m":15.578,"d":14.758,"r":43.9,"a":37.9},
{"t":"2025-02-10T03:45Z","o":15.37,"h":15.41,"l":15.18,"c":15.25,"v":5680,"u":16.381,"m":15.556,"d":14.731,"r":41.1,"a":37.4},
{"t":"2025-02-10T04:00Z","o":15.25,"h":15.31,"l":15.09,"c":15.27,"v":7080,"u":16.364,"m":15.536,"d":14.703,"r":41.7,"a":36.7},
{"t":"2025-02-10T04:15Z","o":15.26,"h":15.46,"l":15.23,"c":15.43,"v":6610,"u":16.342,"m":15.522,"d":14.692,"r":46.5,"a":36.5},
{"t":"2025-02-10T04:30Z","o":15.43,"h":15.56,"l":15.28,"c":15.37,"v":10810,"u":16.3,"m":15.5,"d":14.683,"r":45.2,"a":36.5},
{"t":"2025-02-10T04:45Z","o":15.37,"h":15.41,"l":15.32,"c":15.38,"v":3350,"u":16.231,"m":15.475,"d":14.681,"r":45.2,"a":36.8},
{"t":"2025-02-10T05:00Z","o":15.37,"h":15.59,"l":15.29,"c":15.56,"v":13850,"u":16.175,"m":15.444,"d":14.703,"r":50.8,"a":38.1},
{"t":"2025-02-10T05:15Z","o":15.56,"h":15.64,"l":15.46,"c":15.61,"v":9180,"u":16.106,"m":15.419,"d":14.725,"r":52.3,"a":39.2},
{"t":"2025-02-10T05:30Z","o":15.6,"h":15.66,"l":15.49,"c":15.62,"v":3350,"u":16.028,"m":15.397,"d":14.772,"r":52.6,"a":41.3},
{"t":"2025-02-10T05:45Z","o":15.62,"h":15.82,"l":15.62,"c":15.66,"v":11050,"u":15.953,"m":15.378,"d":14.814,"r":53.8,"a":43.2},
{"t":"2025-02-10T06:00Z","o":15.66,"h":15.72,"l":15.54,"c":15.56,"v":5680,"u":15.886,"m":15.358,"d":14.85,"r":50.6,"a":44.7},
{"t":"2025-02-10T06:15Z","o":15.56,"h":15.62,"l":15.51,"c":15.57,"v":7550,"u":15.853,"m":15.35,"d":14.856,"r":50.6,"a":46.4},
{"t":"2025-02-10T06:30Z","o":15.56,"h":15.64,"l":15.53,"c":15.57,"v":5450,"u":15.85,"m":15.35,"d":14.853,"r":50.6,"a":47.6},
{"t":"2025-02-10T06:45Z","o":15.56,"h":15.73,"l":15.56,"c":15.68,"v":6150,"u":15.864,"m":15.356,"d":14.85,"r":54.6,"a":48.8},
{"t":"2025-02-10T07:00Z","o":15.68,"h":15.94,"l":15.68,"c":15.84,"v":16100,"u":15.93,"m":15.39,"d":14.86,"r":59.93,"a":49.6}
],
"lows":[
{"g":"c","t":"2025-02-09T21:06Z","r":30},{"g":"c","t":"2025-02-09T21:15Z","r":25.8},{"g":"c","t":"2025-02-09T21:30Z","r":22.9},{"g":"c","t":"2025-02-09T21:45Z","r":20.9},{"g":"c","t":"2025-02-09T22:00Z","r":19.2},{"g":"c","t":"2025-02-09T22:15Z","r":23.7},{"g":"c","t":"2025-02-09T22:21Z","r":30}],
"smallLows":[
{"g":"a","t":"2025-02-09T12:25Z","r":30},{"g":"a","t":"2025-02-09T12:30Z","r":27},{"g":"a","t":"2025-02-09T12:35Z","r":30},
{"g":"b","t":"2025-02-09T13:20Z","r":30},{"g":"b","t":"2025-02-09T13:30Z","r":25.8},{"g":"b","t":"2025-02-09T13:45Z","r":24.2},{"g":"b","t":"2025-02-09T13:51Z","r":30},
{"g":"d","t":"2025-02-10T01:55Z","r":30},{"g":"d","t":"2025-02-10T02:00Z","r":26.6},{"g":"d","t":"2025-02-10T02:15Z","r":23.7},{"g":"d","t":"2025-02-10T02:29Z","r":30},
{"g":"e","t":"2025-02-10T02:32Z","r":30},{"g":"e","t":"2025-02-10T02:45Z","r":27.9},{"g":"e","t":"2025-02-10T02:52Z","r":30}],
"highs":[{"g":"h","t":"2025-02-09T03:24Z","r":70},{"g":"h","t":"2025-02-09T03:30Z","r":73},{"g":"h","t":"2025-02-09T03:45Z","r":73.5},{"g":"h","t":"2025-02-09T04:00Z","r":71.3},{"g":"h","t":"2025-02-09T04:04Z","r":70}],
"priceText":[
{"t":"2025-02-08T02:50:30Z","v":18.5225,"txt":"knessav published on TradingView.com, Feb 10, 2025 07:14 UTC","col":"#131722"},
{"t":"2025-02-08T10:27:08Z","v":18.3,"txt":"O","col":"#131722"},{"t":"2025-02-08T10:44:20Z","v":18.3,"txt":"15.68","col":"#089981"},
{"t":"2025-02-08T11:53:06Z","v":18.3,"txt":"H","col":"#131722"},{"t":"2025-02-08T12:08:24Z","v":18.3,"txt":"15.94","col":"#089981"},
{"t":"2025-02-08T13:18:30Z","v":18.3,"txt":"L","col":"#131722"},{"t":"2025-02-08T13:30:34Z","v":18.3,"txt":"15.68","col":"#089981"},
{"t":"2025-02-08T14:40:18Z","v":18.3,"txt":"C","col":"#131722"},{"t":"2025-02-08T14:54:36Z","v":18.3,"txt":"15.84","col":"#089981"},
{"t":"2025-02-08T16:04:36Z","v":18.3,"txt":"+0.16 (+1.02%)","col":"#089981"},
{"t":"2025-02-08T03:05:44Z","v":18.156,"txt":"Vol · TRUMP","col":"#131722"},{"t":"2025-02-08T05:23:54Z","v":18.156,"txt":"16.1K","col":"#26a69a"},
{"t":"2025-02-08T03:05:44Z","v":18.014,"txt":"BB (20, SMA, close, 2)","col":"#131722"},{"t":"2025-02-08T07:05:30Z","v":18.014,"txt":"15.39","col":"#ff6d00"},{"t":"2025-02-08T08:15:18Z","v":18.014,"txt":"15.93","col":"#2962ff"},{"t":"2025-02-08T09:26:00Z","v":18.014,"txt":"14.86","col":"#2962ff"}],
"priceTags":[
{"t":"2025-02-10T09:38Z","t2":"2025-02-10T11:01Z","lo":15.905,"hi":16.045,"col":"#2962ff"},
{"t":"2025-02-10T09:38Z","t2":"2025-02-10T11:01Z","lo":15.648,"hi":15.906,"col":"#089981"},
{"t":"2025-02-10T09:38Z","t2":"2025-02-10T11:01Z","lo":15.325,"hi":15.465,"col":"#ff6d00"},
{"t":"2025-02-10T09:38Z","t2":"2025-02-10T11:01Z","lo":14.78,"hi":14.92,"col":"#2962ff"}],
"priceTagText":[
{"t":"2025-02-10T10:20Z","v":15.975,"txt":"15.93"},{"t":"2025-02-10T10:20Z","v":15.833,"txt":"15.84"},{"t":"2025-02-10T10:20Z","v":15.717,"txt":"00:10"},{"t":"2025-02-10T10:20Z","v":15.395,"txt":"15.39"},{"t":"2025-02-10T10:20Z","v":14.85,"txt":"14.86"}],
"rsiText":[
{"t":"2025-02-08T03:05:44Z","v":76.57,"txt":"RSI (14, close)","col":"#131722"},{"t":"2025-02-08T05:46:12Z","v":76.57,"txt":"59.93","col":"#7e57c2"},{"t":"2025-02-08T06:56:00Z","v":76.57,"txt":"49.60","col":"#fdd835"},
{"t":"2025-02-08T08:07:00Z","v":76.57,"txt":"∅","col":"#131722"},{"t":"2025-02-08T08:36:18Z","v":76.57,"txt":"∅","col":"#131722"},{"t":"2025-02-08T09:06:06Z","v":76.57,"txt":"∅","col":"#131722"},{"t":"2025-02-08T09:35:30Z","v":76.57,"txt":"∅","col":"#131722"},{"t":"2025-02-08T10:03:12Z","v":76.57,"txt":"∅","col":"#131722"},{"t":"2025-02-08T10:34:00Z","v":76.57,"txt":"∅","col":"#131722"}],
"rsiTags":[
{"t":"2025-02-10T09:38Z","t2":"2025-02-10T11:01Z","lo":57.68,"hi":61.88,"col":"#7e57c2"},
{"t":"2025-02-10T09:38Z","t2":"2025-02-10T11:01Z","lo":45.33,"hi":49.53,"col":"#ffeb3b"}],
"rsiTagText":[{"t":"2025-02-10T10:20Z","v":59.78,"txt":"59.93","col":"#ffffff"},{"t":"2025-02-10T10:20Z","v":47.43,"txt":"49.60","col":"#131722"}],
"dashed":[{"t":"2025-02-08T02:50:30Z","t2":"2025-02-10T09:37:30Z","v":70},{"t":"2025-02-08T02:50:30Z","t2":"2025-02-10T09:37:30Z","v":50},{"t":"2025-02-08T02:50:30Z","t2":"2025-02-10T09:37:30Z","v":30}],
"rsiGrid":[{"t":"2025-02-08T02:50:30Z","t2":"2025-02-10T09:37:30Z","v":60},{"t":"2025-02-08T02:50:30Z","t2":"2025-02-10T09:37:30Z","v":40},{"t":"2025-02-08T02:50:30Z","t2":"2025-02-10T09:37:30Z","v":20}],
"frameH":[{"t":"2025-02-08T02:49:30Z","t2":"2025-02-10T11:18Z","v":213.78},{"t":"2025-02-08T02:49:30Z","t2":"2025-02-10T11:18Z","v":6.7}],
"frameV":[{"t":"2025-02-08T02:49:30Z","v":213.78,"v2":6.7},{"t":"2025-02-10T11:18Z","v":213.78,"v2":6.7}],
"masks":[{"t":"2025-02-08T02:20Z","t2":"2025-02-08T02:49:30Z","lo":7.6,"hi":12.54},{"t":"2025-02-10T09:39Z","t2":"2025-02-10T11:12Z","lo":80.44,"hi":81.19}]
},
"encoding":{"x":{"field":"t","type":"temporal","scale":{"type":"utc","padding":0,"domain":["2025-02-08T02:50:30Z","2025-02-10T09:37:30Z"]},"axis":{"title":null,"orient":"bottom","grid":true,"gridColor":"#f0f3fa","gridWidth":1,"domain":false,"ticks":false,"labelPadding":8,"labelFontSize":12,"labelFont":"Roboto","labelColor":"#131722","labelOverlap":false,"labelFlush":false,"labelBound":false,"values":["2025-02-08T03:00:00Z","2025-02-08T06:00:00Z","2025-02-08T09:00:00Z","2025-02-08T12:00:00Z","2025-02-08T15:00:00Z","2025-02-08T18:00:00Z","2025-02-08T21:00:00Z","2025-02-09T00:00:00Z","2025-02-09T03:00:00Z","2025-02-09T06:00:00Z","2025-02-09T09:00:00Z","2025-02-09T12:00:00Z","2025-02-09T15:00:00Z","2025-02-09T18:00:00Z","2025-02-09T21:00:00Z","2025-02-10T00:00:00Z","2025-02-10T03:00:00Z","2025-02-10T06:00:00Z","2025-02-10T09:00:00Z"],"labelExpr":"utchours(datum.value)==0?utcFormat(datum.value,'%-d'):utcFormat(datum.value,'%H:%M')"}}},
"layer":[
{"encoding":{"y":{"field":"v","type":"quantitative","scale":{"domain":[-63224,125982],"nice":false,"zero":false},"axis":null}},"layer":[
{"data":{"name":"bars"},"mark":{"type":"bar","size":7,"opacity":0.45},"encoding":{"y2":{"datum":0},"color":{"condition":{"test":"datum.c>=datum.o","value":"#089981"},"value":"#f23645"}}},
{"data":{"values":[{"t":"2025-02-10T09:38Z","t2":"2025-02-10T11:07Z","v":14140,"hi":18060}]},"mark":{"type":"rect","color":"#26a69a","cornerRadius":1},"encoding":{"x2":{"field":"t2"},"y2":{"field":"hi"}}},
{"data":{"values":[{"t":"2025-02-10T10:22Z","v":16100,"txt":"16.1K"}]},"mark":{"type":"text","color":"#ffffff","fontSize":12,"align":"center","baseline":"middle"},"encoding":{"text":{"field":"txt"}}}
]},
{"layer":[
{"data":{"name":"bars"},"mark":{"type":"area","color":"#2196f3","opacity":0.05,"clip":true},"encoding":{"y":{"field":"u","type":"quantitative","scale":{"domain":[11.6642,18.4225],"nice":false,"zero":false},"axis":{"orient":"right","title":null,"grid":true,"gridColor":"#f0f3fa","domain":false,"ticks":false,"labelPadding":9,"labelFontSize":12,"labelFont":"Roboto","labelColor":"#131722","labelOverlap":false,"labelFlush":false,"labelBound":false,"values":[14,14.5,15,15.5,16,16.5,17,17.5,18],"labelExpr":"datum.value==16||datum.value==14.5?'':format(datum.value,'.2f')"}},"y2":{"field":"d"}}},
{"data":{"name":"bars"},"mark":{"type":"line","color":"#2962ff","strokeWidth":1,"clip":true},"encoding":{"y":{"field":"u","type":"quantitative"}}},
{"data":{"name":"bars"},"mark":{"type":"line","color":"#2962ff","strokeWidth":1,"clip":true},"encoding":{"y":{"field":"d","type":"quantitative"}}},
{"data":{"name":"bars"},"mark":{"type":"line","color":"#ff6d00","strokeWidth":1,"clip":true},"encoding":{"y":{"field":"m","type":"quantitative"}}},
{"data":{"name":"bars"},"mark":{"type":"rule","strokeWidth":1},"encoding":{"y":{"field":"l","type":"quantitative"},"y2":{"field":"h"},"color":{"condition":{"test":"datum.c>=datum.o","value":"#089981"},"value":"#f23645"}}},
{"data":{"name":"bars"},"mark":{"type":"bar","size":5},"encoding":{"y":{"field":"o","type":"quantitative"},"y2":{"field":"c"},"color":{"condition":{"test":"datum.c>=datum.o","value":"#089981"},"value":"#f23645"}}},
{"data":{"values":[{"t":"2025-02-08T02:50:30Z","t2":"2025-02-10T09:37:30Z","v":15.84}]},"mark":{"type":"rule","color":"#089981","strokeWidth":1,"strokeDash":[1,3]},"encoding":{"x2":{"field":"t2"},"y":{"field":"v","type":"quantitative"}}},
{"data":{"name":"priceText"},"mark":{"type":"text","align":"left","baseline":"middle","fontSize":12},"encoding":{"y":{"field":"v","type":"quantitative"},"text":{"field":"txt"},"color":{"field":"col","type":"nominal","scale":null}}},
{"data":{"values":[{"t":"2025-02-08T03:05:44Z","v":18.3,"txt":"OFFICIAL TRUMP / USD TETHER, 15, KCEX"}]},"mark":{"type":"text","align":"left","baseline":"middle","fontSize":11.5,"color":"#131722"},"encoding":{"y":{"field":"v","type":"quantitative"},"text":{"field":"txt"}}},
{"data":{"name":"priceTags"},"mark":{"type":"rect","cornerRadius":1},"encoding":{"x2":{"field":"t2"},"y":{"field":"lo","type":"quantitative"},"y2":{"field":"hi"},"color":{"field":"col","type":"nominal","scale":null}}},
{"data":{"name":"priceTagText"},"mark":{"type":"text","color":"#ffffff","align":"center","baseline":"middle","fontSize":12},"encoding":{"y":{"field":"v","type":"quantitative"},"text":{"field":"txt"}}},
{"data":{"values":[{"t":"2025-02-10T07:00Z","v":14.033}]},"mark":{"type":"point","shape":"circle","size":340,"fill":"#ffffff","stroke":"#9c27b0","strokeWidth":1.5,"opacity":1},"encoding":{"y":{"field":"v","type":"quantitative"}}},
{"data":{"values":[{"t":"2025-02-10T07:00Z","v":14.033}]},"mark":{"type":"point","shape":"M0.2,-1 L-0.5,0.15 H-0.05 L-0.2,1 L0.5,-0.15 H0.05 Z","size":90,"fill":"#9c27b0","stroke":null,"opacity":1},"encoding":{"y":{"field":"v","type":"quantitative"}}}
]},
{"layer":[
{"data":{"values":[{"t":"2025-02-08T02:50:30Z","t2":"2025-02-10T09:37:30Z","lo":30,"hi":70}]},"mark":{"type":"rect","color":"#7e57c2","opacity":0.1},"encoding":{"x2":{"field":"t2"},"y":{"field":"lo","type":"quantitative","scale":{"domain":[13.53,213.78],"nice":false,"zero":false},"axis":{"orient":"right","title":null,"grid":false,"domain":false,"ticks":false,"labelPadding":9,"labelFontSize":12,"labelFont":"Roboto","labelColor":"#131722","labelOverlap":false,"labelFlush":false,"labelBound":false,"format":".2f","values":[80,70,51.78,40,30,23.54,20]}},"y2":{"field":"hi"}}},
{"data":{"name":"rsiGrid"},"mark":{"type":"rule","color":"#e6e6ee","strokeWidth":1},"encoding":{"x2":{"field":"t2"},"y":{"field":"v","type":"quantitative"}}},
{"data":{"name":"dashed"},"mark":{"type":"rule","color":"#787b86","strokeWidth":1,"strokeDash":[5,5]},"encoding":{"x2":{"field":"t2"},"y":{"field":"v","type":"quantitative"}}},
{"data":{"name":"lows"},"mark":{"type":"area","fill":{"x1":0,"y1":0,"x2":0,"y2":1,"gradient":"linear","stops":[{"offset":0,"color":"rgba(255,109,0,0.02)"},{"offset":1,"color":"rgba(255,109,0,0.4)"}]}},"encoding":{"y":{"field":"r","type":"quantitative"},"y2":{"datum":30},"detail":{"field":"g"}}},
{"data":{"name":"smallLows"},"mark":{"type":"area","fill":{"x1":0,"y1":0,"x2":0,"y2":1,"gradient":"linear","stops":[{"offset":0,"color":"rgba(255,109,0,0.01)"},{"offset":1,"color":"rgba(255,109,0,0.14)"}]}},"encoding":{"y":{"field":"r","type":"quantitative"},"y2":{"datum":30},"detail":{"field":"g"}}},
{"data":{"name":"highs"},"mark":{"type":"area","fill":{"x1":0,"y1":0,"x2":0,"y2":1,"gradient":"linear","stops":[{"offset":0,"color":"rgba(8,153,129,0.07)"},{"offset":1,"color":"rgba(8,153,129,0.01)"}]}},"encoding":{"y":{"field":"r","type":"quantitative"},"y2":{"datum":70},"detail":{"field":"g"}}},
{"data":{"name":"bars"},"mark":{"type":"line","color":"#fdd835","strokeWidth":1,"clip":true},"encoding":{"y":{"field":"a","type":"quantitative"}}},
{"data":{"name":"bars"},"mark":{"type":"line","color":"#7e57c2","strokeWidth":1,"clip":true},"encoding":{"y":{"field":"r","type":"quantitative"}}},
{"data":{"name":"rsiText"},"mark":{"type":"text","align":"left","baseline":"middle","fontSize":12},"encoding":{"y":{"field":"v","type":"quantitative"},"text":{"field":"txt"},"color":{"field":"col","type":"nominal","scale":null}}},
{"data":{"name":"rsiTags"},"mark":{"type":"rect","cornerRadius":1},"encoding":{"x2":{"field":"t2"},"y":{"field":"lo","type":"quantitative"},"y2":{"field":"hi"},"color":{"field":"col","type":"nominal","scale":null}}},
{"data":{"name":"rsiTagText"},"mark":{"type":"text","align":"center","baseline":"middle","fontSize":12},"encoding":{"y":{"field":"v","type":"quantitative"},"text":{"field":"txt"},"color":{"field":"col","type":"nominal","scale":null}}},
{"data":{"name":"masks"},"mark":{"type":"rect","color":"#ffffff"},"encoding":{"x2":{"field":"t2"},"y":{"field":"lo","type":"quantitative"},"y2":{"field":"hi"}}},
{"data":{"values":[{"t":"2025-02-08T02:50:30Z","t2":"2025-02-10T11:18Z","v":80.44}]},"mark":{"type":"rule","color":"#e0e3eb","strokeWidth":1.5},"encoding":{"x2":{"field":"t2"},"y":{"field":"v","type":"quantitative"}}},
{"data":{"name":"frameH"},"mark":{"type":"rule","color":"#f0f3fa","strokeWidth":2},"encoding":{"x2":{"field":"t2"},"y":{"field":"v","type":"quantitative"}}},
{"data":{"name":"frameV"},"mark":{"type":"rule","color":"#f0f3fa","strokeWidth":1.5},"encoding":{"y":{"field":"v","type":"quantitative"},"y2":{"field":"v2"}}},
{"data":{"values":[{"t":"2025-02-08T03:34:24Z","v":2.42,"txt":"TradingView"}]},"mark":{"type":"text","align":"left","baseline":"middle","fontSize":13,"color":"#131722"},"encoding":{"y":{"field":"v","type":"quantitative"},"text":{"field":"txt"}}},
{"data":{"values":[{"t":"2025-02-08T03:08:36Z","v":2.42}]},"mark":{"type":"point","shape":"M-1,-0.55 H0 V0.55 H-0.5 V-0.1 H-1 Z M0.38,0.55 L0.72,-0.55 H1.05 L0.7,0.55 Z","size":360,"fill":"#131722","stroke":null,"opacity":1},"encoding":{"y":{"field":"v","type":"quantitative"}}}
]}
],
"resolve":{"scale":{"y":"independent"},"axis":{"y":"independent"}}}
